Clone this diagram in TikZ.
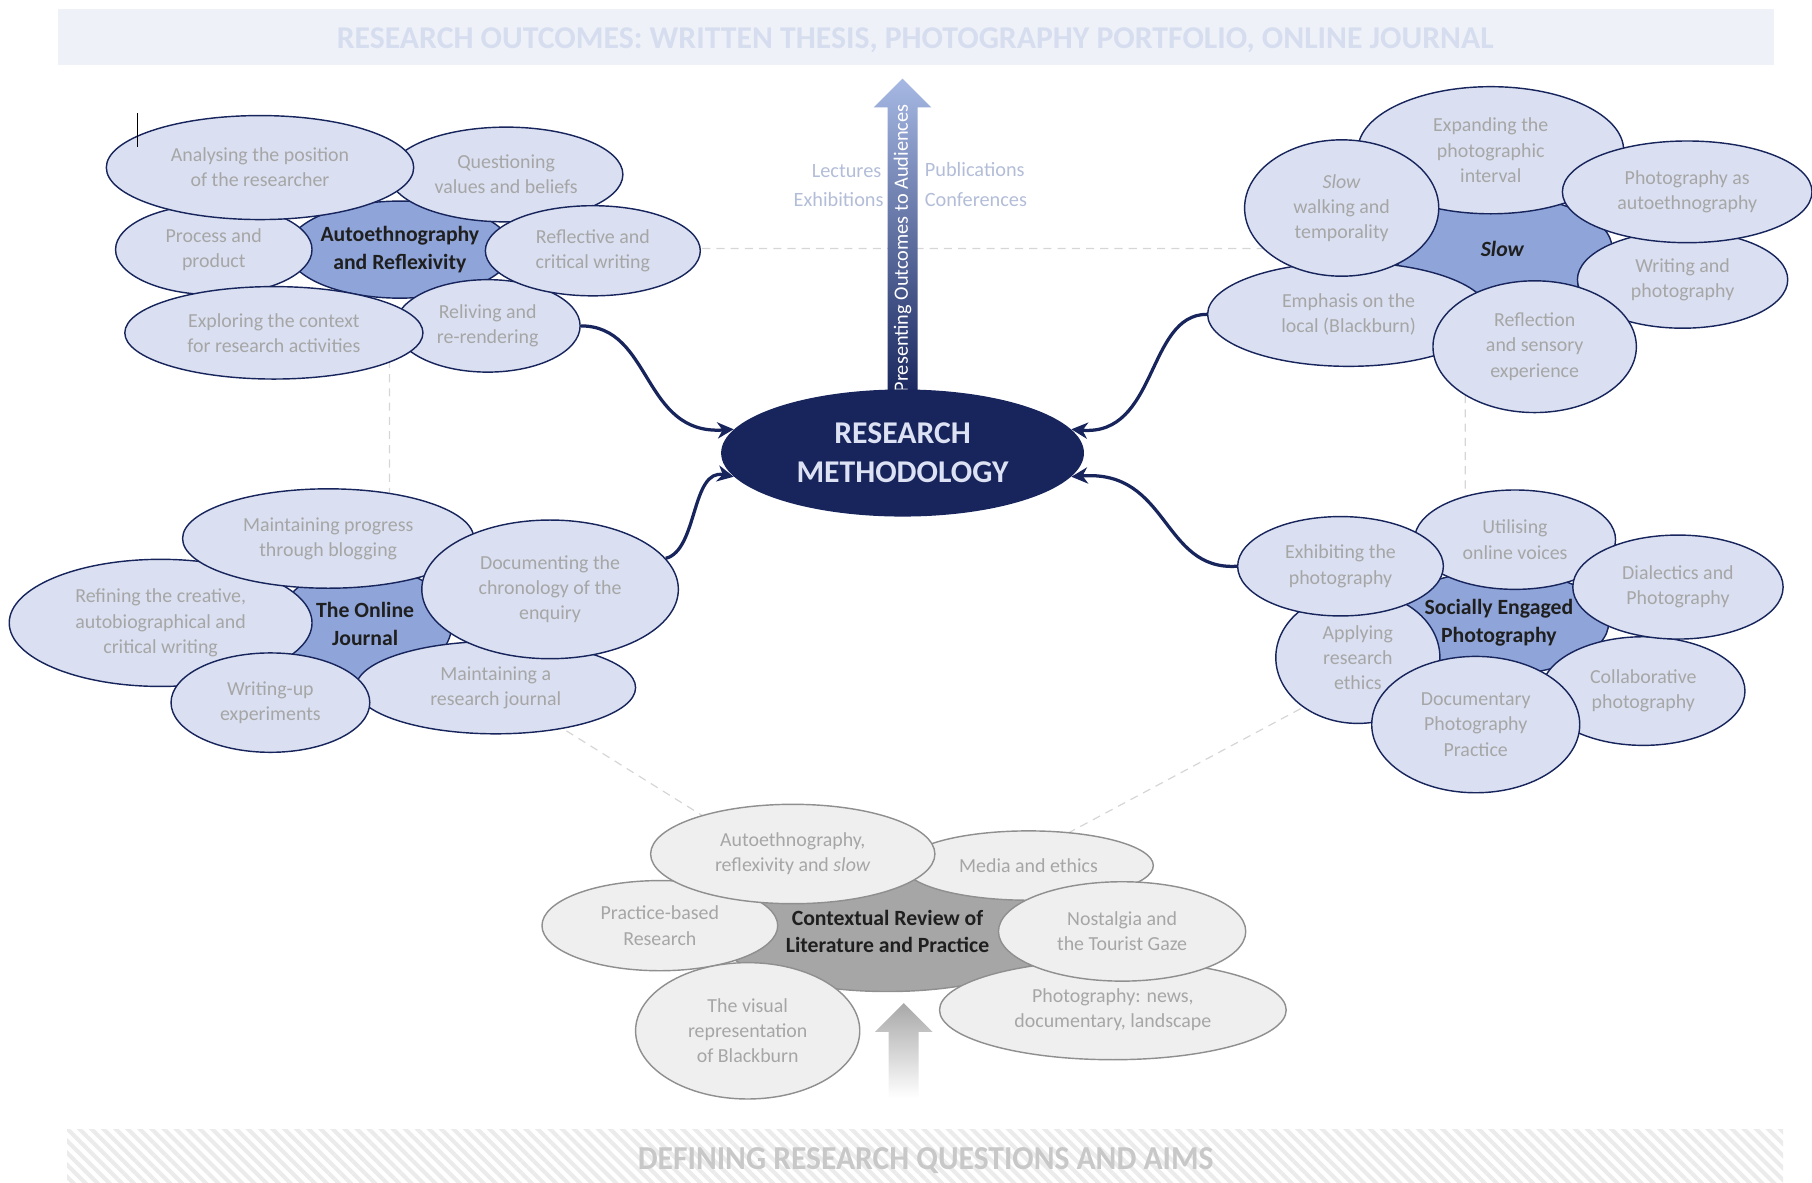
\documentclass[tikz,border=0pt]{standalone}
\usepackage{fontspec}
\setmainfont{Carlito}
\usepackage{graphicx}
\usetikzlibrary{shapes.geometric,arrows.meta,patterns.meta}

\definecolor{rmnavy}{HTML}{17255C}
\definecolor{petalfill}{HTML}{DAE0F1}
\definecolor{hubblue}{HTML}{8FA5D9}
\definecolor{petaltext}{HTML}{A6A6A6}
\definecolor{greyfill}{HTML}{EFEFEF}
\definecolor{greyline}{HTML}{8F8F8F}
\definecolor{greyhub}{HTML}{A6A6A6}
\definecolor{bannerfill}{HTML}{EEF1F8}
\definecolor{bannertext}{HTML}{D6DDEF}
\definecolor{dashgrey}{HTML}{D6D6D6}
\definecolor{outlabel}{HTML}{B3BDD8}
\definecolor{methodtext}{HTML}{DCE2F3}
\definecolor{arrowtop}{HTML}{A6B8E3}
\definecolor{arrowmid}{HTML}{5068B4}
\definecolor{arrowgrey}{HTML}{A8A8A8}
\definecolor{hatch}{HTML}{EBEBEB}
\definecolor{defgrey}{HTML}{C8C8C8}

\newcommand\petalfont{\fontsize{9.8}{12.4}\selectfont}
\newcommand\hubfont{\fontsize{10.7}{13.7}\selectfont\bfseries}

\begin{document}
\begin{tikzpicture}[x=0.2mm, y=-0.2mm,
	esize/.style 2 args={minimum width=#1*0.4mm, minimum height=#2*0.4mm},
	petal/.style={ellipse, draw=rmnavy, line width=0.7pt, fill=petalfill, text=petaltext, align=center, inner sep=0pt, font=\petalfont},
	gpetal/.style={petal, draw=greyline, fill=greyfill},
	hub/.style={ellipse, fill=hubblue, draw=rmnavy, line width=0.7pt, text=black!88, align=center, inner sep=0pt, font=\hubfont},
	ghub/.style={hub, fill=greyhub, draw=greyline},
	link/.style={draw=rmnavy, line width=1.6pt, -{Stealth[length=8pt, width=8pt, inset=2.5pt]}},
	side/.style={text=outlabel, font=\fontsize{10}{12}\selectfont, inner sep=0pt}
]
	\useasboundingbox (0,0) rectangle (1568,1023);

	% Banners
	\fill[bannerfill] (50,8) rectangle (1535,56);
	\node[anchor=base, text=bannertext, inner sep=0pt] (outc) at (792,42) {\resizebox{20.02cm}{0.36cm}{\bfseries RESEARCH OUTCOMES: WRITTEN THESIS, PHOTOGRAPHY PORTFOLIO, ONLINE JOURNAL}};
	\fill[pattern={Lines[angle=-45, distance=4.2pt, line width=2pt]}, pattern color=hatch] (58,977) rectangle (1543,1023);
	\node[anchor=base, text=defgrey, inner sep=0pt] (defq) at (801,1012) {\resizebox{9.96cm}{0.38cm}{\bfseries DEFINING RESEARCH QUESTIONS AND AIMS}};

	% Dashed frame
	\coordinate (pa) at (337,215);
	\coordinate (pb) at (1268,215);
	\coordinate (pc) at (1268,537);
	\coordinate (pd) at (767,805);
	\coordinate (pe) at (337,537);
	\draw[dashgrey, line width=0.6pt, dash pattern=on 4pt off 3pt] (pa) -- (pb) -- (pc) -- (pd) -- (pe) -- cycle;

	% Outcomes arrow
	\shade[top color=arrowtop, middle color=arrowmid, bottom color=rmnavy] (768,345) -- (768,93) -- (756,93) -- (781,68) -- (806,93) -- (794,93) -- (794,345) -- cycle;
	\node[rotate=90, text=white, font=\fontsize{10}{12}\selectfont, inner sep=0pt] (pres) at (781,215) {Presenting Outcomes to Audiences};
	\node[side, anchor=east] (lec) at (763,148) {Lectures};
	\node[side, anchor=east] (exh) at (765,173) {Exhibitions};
	\node[side, anchor=west] (pub) at (800,147) {Publications};
	\node[side, anchor=west] (conf) at (800,173) {Conferences};

	% Research methodology
	\node[ellipse, fill=rmnavy, inner sep=0pt, esize={157}{55}, text=methodtext, align=center, font=\fontsize{15.6}{19.3}\selectfont\bfseries] (rm) at (781,392) {RESEARCH\\METHODOLOGY};

	% Autoethnography and Reflexivity
	\node[hub, esize={90}{42}] (ae) at (346,216) {Autoethnography\\and Reflexivity};
	\node[petal, esize={101}{41}] (ae2) at (438,151) {Questioning\\values and beliefs};
	\node[petal, esize={85}{39}] (ae3) at (185,216) {Process and\\product};
	\node[petal, esize={80}{40}] (ae6) at (422,282) {Reliving and\\re-rendering};
	\node[petal, esize={93}{39}] (ae4) at (513,217) {Reflective and\\critical writing};
	\node[petal, esize={133}{45}] (ae1) at (225,145) {Analysing the position\\of the researcher};
	\node[petal, esize={129}{40}] (ae5) at (237,288) {Exploring the context\\for research activities};

	% Slow
	\node[hub, esize={95}{45}, font=\hubfont\itshape] (sl) at (1300,215) {Slow};
	\node[petal, esize={115}{55}] (sl1) at (1290,130) {Expanding the\\photographic\\interval};
	\node[petal, esize={91}{42}] (sl4) at (1456,242) {Writing and\\photography};
	\node[petal, esize={122}{45}] (sl5) at (1167,272) {Emphasis on the\\local (Blackburn)};
	\node[petal, esize={84}{59}] (sl2) at (1161,180) {\textit{Slow}\\walking and\\temporality};
	\node[petal, esize={108}{44}] (sl3) at (1460,166) {Photography as\\autoethnography};
	\node[petal, esize={88}{57}] (sl6) at (1328,300) {Reflection\\and sensory\\experience};

	% The Online Journal
	\node[hub, esize={75}{50}] (oj) at (316,540) {The Online\\Journal};
	\node[petal, esize={131}{55}] (oj1) at (139,539) {Refining the creative,\\autobiographical and\\critical writing};
	\node[petal, esize={126}{43}] (oj2) at (284,466) {Maintaining progress\\through blogging};
	\node[petal, esize={121}{40}] (oj5) at (429,595) {Maintaining a\\research journal};
	\node[petal, esize={111}{60}] (oj3) at (476,510) {Documenting the\\chronology of the\\enquiry};
	\node[petal, esize={86}{43}] (oj4) at (234,608) {Writing-up\\experiments};

	% Socially Engaged Photography
	\node[hub, esize={95}{45}] (se) at (1297,539) {Socially Engaged\\Photography};
	\node[petal, esize={71}{57}] (se5) at (1175,569) {Applying\\research\\ethics};
	\node[petal, esize={88}{47}] (se4) at (1422,598) {Collaborative\\photography};
	\node[petal, esize={87}{43}] (se2) at (1311,467) {Utilising\\online voices};
	\node[petal, esize={89}{43}] (se1) at (1160,490) {Exhibiting the\\photography};
	\node[petal, esize={91}{45}] (se3) at (1452,508) {Dialectics and\\Photography};
	\node[petal, esize={90}{59}] (se6) at (1277,627) {Documentary\\Photography\\Practice};

	% Contextual Review
	\node[ghub, esize={150}{52}] (cr) at (768,806) {Contextual Review of\\Literature and Practice};
	\node[gpetal, esize={108}{30}] (cr2) at (890,749) {Media and ethics};
	\node[gpetal, esize={102}{39}] (cr6) at (571,801) {Practice-based\\Research};
	\node[gpetal, esize={123}{43}] (cr1) at (686,739) {Autoethnography,\\reflexivity and \textit{slow}};
	\node[gpetal, esize={150}{43}] (cr4) at (963,874) {Photography: news,\\documentary, landscape};
	\node[gpetal, esize={107}{43}] (cr3) at (971,806) {Nostalgia and\\the Tourist Gaze};
	\node[gpetal, esize={97}{59}] (cr5) at (647,892) {The visual\\representation\\of Blackburn};

	% Questions arrow
	\shade[top color=arrowgrey, bottom color=white] (769,950) -- (769,893) -- (757,893) -- (782,868) -- (807,893) -- (795,893) -- (795,950) -- cycle;

	% Links to methodology
	\draw[link] (ae6.east) .. controls (565,282) and (555,377) .. (rm.172);
	\draw[link] (oj3.15) .. controls (604,476) and (598,405) .. (rm.188);
	\draw[link] (sl5.west) .. controls (992,272) and (1002,378) .. (rm.8);
	\draw[link] (se1.west) .. controls (1005,494) and (1012,406) .. (rm.352);

	% Cursor
	\draw[line width=0.6pt] (119,98) -- (119,127);

\end{tikzpicture}
\end{document}
